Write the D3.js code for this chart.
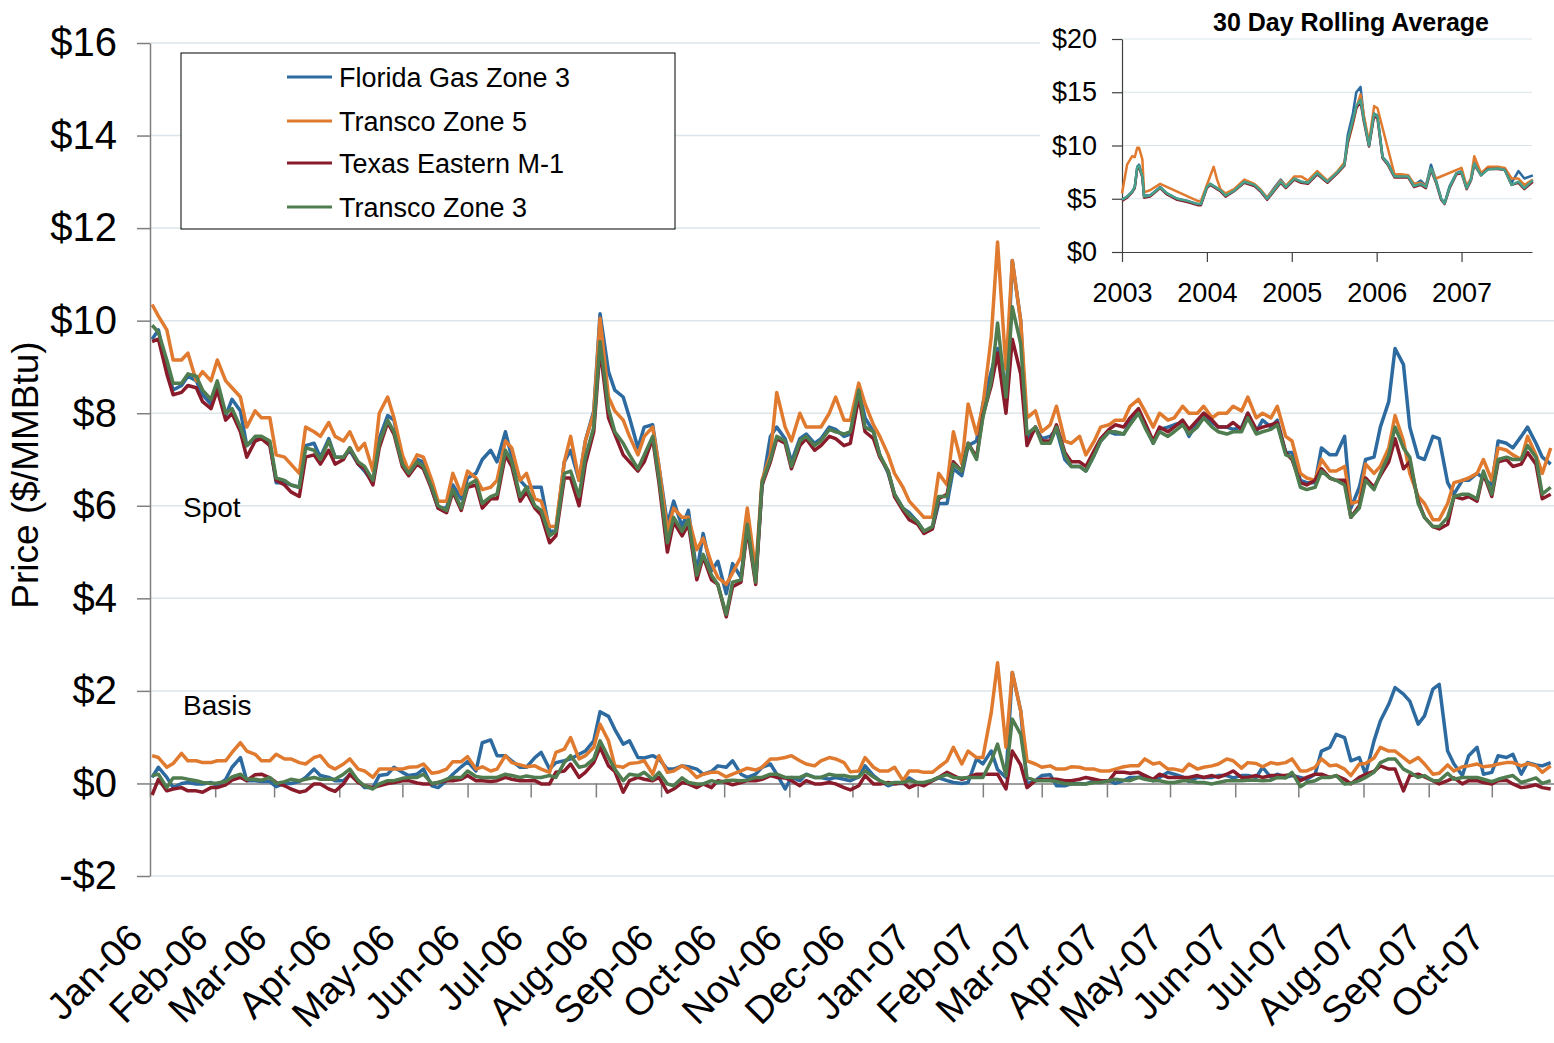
<!DOCTYPE html>
<html>
<head>
<meta charset="utf-8">
<script src="https://cdn.jsdelivr.net/npm/d3@7"></script>
<style>
  body { margin: 0; background: #fff; }
  svg { display: block; font-family: "Liberation Sans", Arial, sans-serif; }
</style>
</head>
<body>
<div id="chart"></div>
<script>
// series (legend order = drawing order)
const seriesNames = ["Florida Gas Zone 3", "Transco Zone 5", "Texas Eastern M-1", "Transco Zone 3"];
const seriesColors = ["#2C6AA0", "#E07A2F", "#8A1B2B", "#4F7D4F"];
const insetColors = ["#2C6AA0", "#E07A2F", "#8A1B2B", "#47A08A"];

const monthLabels = ["Jan-06", "Feb-06", "Mar-06", "Apr-06", "May-06", "Jun-06", "Jul-06", "Aug-06",
  "Sep-06", "Oct-06", "Nov-06", "Dec-06", "Jan-07", "Feb-07", "Mar-07", "Apr-07", "May-07", "Jun-07",
  "Jul-07", "Aug-07", "Sep-07", "Oct-07"];
const priceTicks = [-2, 0, 2, 4, 6, 8, 10, 12, 14, 16];

// prices read twice a week (Mondays and Thursdays), Jan 2 2006 .. Oct 29 2007
const fgtSpot = [
  9.6,9.8,8.95,8.5,8.6,8.8,8.7,8.4,8.2,8.6,7.95,8.3,8.05,7.3,7.45,7.45,7.35,6.5,6.5,6.45,6.4,7.3,7.35,7.05,
  7.45,7.05,7.05,7.2,6.9,6.75,6.5,7.45,7.95,7.85,7.0,6.75,7.0,6.95,6.35,5.95,5.95,6.45,6.15,6.6,6.7,7.0,7.2,6.95,
  7.6,7.05,6.55,6.4,6.4,6.4,5.45,5.45,6.95,7.2,6.55,7.4,8.05,10.15,8.9,8.5,8.35,7.9,7.25,7.7,7.75,6.85,5.6,6.1,
  5.55,5.9,4.55,5.4,4.6,4.8,4.1,4.75,4.45,5.6,4.45,6.4,7.5,7.7,7.45,6.95,7.45,7.55,7.35,7.45,7.7,7.65,7.5,
  7.55,8.5,7.9,7.6,7.1,6.7,6.25,5.95,5.85,5.65,5.45,5.5,6.05,6.05,6.8,6.65,7.3,7.4,8.2,8.9,9.4,8.3,11.3,10.0,
  7.4,7.7,7.45,7.5,7.65,7.0,6.85,6.85,6.75,7.1,7.4,7.6,7.55,7.55,7.8,8.05,7.8,7.35,7.65,7.7,7.75,7.8,7.5,
  7.8,8.0,7.8,7.7,7.7,7.65,7.7,8.0,7.6,7.85,7.7,7.85,7.15,7.15,6.55,6.5,6.5,7.25,7.1,7.1,7.5,5.95,6.4,7.0,
  7.05,7.7,8.25,9.4,9.05,7.7,7.05,7.0,7.5,7.45,6.5,6.25,6.55,6.55,6.7,6.6,6.45,7.4,7.35,7.25,7.5,7.7,7.35,7.05,6.9
];
const tz5Spot = [
  10.35,10.1,9.8,9.15,9.15,9.3,8.7,8.9,8.7,9.15,8.7,8.55,8.35,7.7,8.05,7.9,7.9,7.1,7.05,6.9,6.7,7.7,7.6,7.5,
  7.8,7.5,7.4,7.6,7.2,7.35,6.75,8.0,8.35,7.9,7.1,6.75,7.1,7.05,6.55,6.1,6.1,6.7,6.25,6.75,6.6,6.35,6.4,6.55,
  7.4,7.25,6.55,6.7,6.15,6.1,5.55,5.55,6.95,7.5,6.55,7.4,8.0,10.05,8.35,8.05,7.85,7.5,7.1,7.5,7.7,6.85,5.45,5.95,
  5.75,5.75,5.05,5.3,4.75,4.45,4.3,4.55,4.9,5.95,4.6,6.55,7.1,8.45,7.7,7.4,8.0,7.7,7.7,7.7,8.0,8.35,7.85,
  7.85,8.65,8.2,7.75,7.5,7.1,6.7,6.4,6.1,5.9,5.75,5.75,6.7,6.45,7.6,6.9,8.2,7.55,8.15,9.65,11.7,8.95,11.3,10.0,
  7.9,8.05,7.6,7.75,8.15,7.4,7.35,7.5,7.1,7.4,7.7,7.75,7.85,7.85,8.15,8.3,8.05,7.7,8.0,7.85,7.9,8.15,8.0,
  8.0,8.15,7.9,8.0,8.0,8.15,8.05,8.35,7.9,8.0,7.9,8.15,7.5,7.4,6.7,6.6,6.55,7.0,6.75,6.75,6.85,6.05,6.1,6.9,
  6.7,6.85,7.25,7.95,7.4,6.7,6.2,6.05,5.7,5.7,6.05,6.5,6.55,6.6,6.7,7.0,6.55,7.25,7.2,7.1,7.0,7.5,7.1,6.7,7.25
];
const tetcoSpot = [
  9.55,9.6,8.85,8.4,8.45,8.6,8.55,8.25,8.1,8.5,7.85,8.0,7.6,7.05,7.4,7.45,7.3,6.55,6.45,6.3,6.2,7.05,7.1,6.9,
  7.2,6.9,7.0,7.25,6.9,6.8,6.45,7.25,7.8,7.55,6.85,6.65,6.9,6.8,6.35,5.95,5.85,6.3,5.9,6.4,6.45,5.95,6.15,6.15,
  7.1,6.85,6.1,6.3,5.95,5.8,5.2,5.35,6.6,6.6,6.0,6.9,7.6,9.4,7.9,7.55,7.1,6.95,6.75,6.95,7.45,6.5,5.0,5.65,
  5.35,5.6,4.4,4.9,4.4,4.3,3.6,4.25,4.35,5.5,4.3,6.45,6.95,7.45,7.35,6.8,7.3,7.45,7.2,7.3,7.5,7.45,7.3,
  7.35,8.35,7.6,7.45,7.05,6.75,6.2,5.9,5.7,5.6,5.4,5.5,6.15,6.25,6.95,6.75,7.35,7.05,7.95,8.6,9.3,8.0,9.6,8.85,
  7.3,7.7,7.4,7.4,7.75,7.15,6.95,6.95,6.85,7.2,7.45,7.65,7.75,7.7,7.9,8.1,7.8,7.4,7.7,7.6,7.7,7.85,7.65,
  7.85,8.0,7.85,7.7,7.7,7.8,7.65,8.0,7.65,7.7,7.75,7.8,7.15,7.0,6.5,6.45,6.55,6.8,6.6,6.55,6.55,5.75,6.0,6.6,
  6.4,6.65,6.95,7.45,6.8,6.95,6.1,5.75,5.55,5.5,5.6,6.2,6.15,6.2,6.1,6.7,6.2,6.95,7.0,6.85,6.9,7.15,6.9,6.15,6.25
];
const tz3Spot = [
  9.9,9.75,9.15,8.65,8.65,8.85,8.8,8.5,8.3,8.7,8.0,8.1,7.7,7.3,7.5,7.5,7.4,6.6,6.55,6.45,6.4,7.25,7.2,7.0,
  7.4,7.05,7.05,7.25,6.95,6.85,6.55,7.35,7.85,7.6,6.9,6.7,6.95,6.85,6.4,6.0,5.9,6.35,5.95,6.45,6.55,6.05,6.2,6.25,
  7.2,6.95,6.2,6.4,6.0,5.9,5.35,5.45,6.7,6.75,6.2,7.05,7.7,9.55,8.1,7.6,7.35,7.1,6.8,7.1,7.5,6.6,5.2,5.75,
  5.45,5.7,4.5,4.95,4.5,4.3,3.65,4.35,4.4,5.6,4.35,6.5,7.0,7.5,7.4,6.85,7.4,7.5,7.3,7.4,7.65,7.6,7.55,
  7.6,8.5,7.7,7.6,7.1,6.75,6.25,5.95,5.8,5.65,5.45,5.55,6.2,6.2,6.9,6.75,7.35,7.0,7.9,8.7,9.95,8.35,10.3,9.5,
  7.55,7.7,7.35,7.35,7.7,7.1,6.85,6.85,6.75,7.1,7.4,7.6,7.6,7.55,7.75,8.0,7.7,7.35,7.6,7.5,7.6,7.75,7.55,
  7.7,7.9,7.7,7.6,7.55,7.6,7.6,7.9,7.55,7.6,7.65,7.75,7.1,7.05,6.4,6.35,6.4,6.75,6.6,6.55,6.45,5.75,5.95,6.55,
  6.35,6.7,7.1,7.7,7.25,7.05,6.05,5.75,5.55,5.55,5.75,6.2,6.25,6.25,6.15,6.75,6.25,7.0,7.05,7.0,7.0,7.3,7.05,6.25,6.4
];

// basis, same dates
const fgtBasis = [
  0.13,0.35,0.13,-0.09,0,0.02,-0.01,-0.01,0.02,-0.05,0.09,0.35,0.56,0.06,0.06,0.04,0.04,-0.07,0,0,0.04,0.13,0.31,0.17,
  0.13,0.06,0.06,0.19,0.06,-0.09,-0.09,0.17,0.2,0.35,0.24,0.17,0.2,0.31,-0.05,-0.09,0.06,0.2,0.36,0.47,0.27,0.88,0.94,0.6,
  0.6,0.49,0.35,0.35,0.56,0.67,0.31,0.45,0.49,0.53,0.63,0.7,0.92,1.55,1.45,1.17,0.85,0.92,0.56,0.55,0.6,0.53,0.31,0.31,
  0.38,0.36,0.31,0.2,0.26,0.38,0.35,0.49,0.2,0.13,0.2,0.35,0.42,0.2,-0.12,0.13,0.06,0.2,0.13,0.13,0.09,0.13,0.09,
  0.06,0.14,0.38,0.17,0.06,-0.05,0,0,0.12,0,-0.01,0.06,0.12,0.06,0.02,0,0.02,0.53,0.42,0.7,0.3,0.13,2.4,1.57,
  -0.01,0.06,0.17,0.19,-0.05,-0.05,-0.01,0,-0.01,0.06,0.06,0.06,0,0.06,0.13,0.13,0.17,0.06,0.13,0.24,0.2,0.14,0.04,
  0.13,0.13,0.13,0.17,0.17,0.12,0.17,0.17,0.13,0.35,0.13,0.2,0.13,0.17,0.13,0.09,0.2,0.7,0.78,1.06,0.99,0.49,0.56,0.2,
  0.92,1.35,1.71,2.07,1.93,1.78,1.28,1.46,2.04,2.14,0.7,0.42,0.17,0.6,0.78,0.2,0.24,0.6,0.56,0.63,0.2,0.45,0.4,0.38,0.45
];
const tz5Basis = [
  0.6,0.56,0.35,0.43,0.65,0.49,0.49,0.45,0.45,0.49,0.49,0.67,0.88,0.7,0.63,0.49,0.49,0.63,0.53,0.53,0.45,0.42,0.56,0.6,
  0.38,0.31,0.42,0.53,0.31,0.27,0.13,0.31,0.31,0.31,0.31,0.35,0.36,0.42,0.22,0.24,0.31,0.47,0.47,0.58,0.31,0.36,0.27,0.31,
  0.6,0.45,0.4,0.36,0.38,0.31,0.24,0.67,0.74,0.99,0.53,0.6,0.78,1.28,0.92,0.38,0.35,0.43,0.45,0.49,0.2,0.6,0.24,0.27,
  0.38,0.31,0.13,0.2,0.24,0.24,0.14,0.2,0.27,0.33,0.29,0.35,0.53,0.53,0.56,0.6,0.49,0.42,0.38,0.49,0.56,0.53,0.45,
  0.25,0.27,0.56,0.35,0.27,0.27,0.35,0.06,0.27,0.27,0.24,0.24,0.35,0.49,0.78,0.42,0.7,0.56,0.56,1.53,2.61,0.78,2.4,1.57,
  0.49,0.42,0.35,0.38,0.31,0.31,0.36,0.35,0.31,0.31,0.27,0.27,0.31,0.36,0.38,0.38,0.53,0.42,0.45,0.31,0.31,0.27,0.42,
  0.31,0.35,0.38,0.42,0.53,0.49,0.33,0.45,0.43,0.36,0.45,0.42,0.45,0.53,0.27,0.27,0.35,0.53,0.38,0.4,0.31,0.17,0.42,0.43,
  0.55,0.78,0.7,0.7,0.56,0.45,0.56,0.42,0.2,0.22,0.4,0.27,0.36,0.38,0.42,0.36,0.38,0.42,0.45,0.45,0.38,0.43,0.38,0.24,0.38
];
const tetcoBasis = [
  -0.25,0.09,-0.16,-0.12,-0.09,-0.16,-0.16,-0.19,-0.09,-0.09,-0.03,0.07,0.13,0.06,0.19,0.2,0.12,0.02,-0.05,-0.12,-0.19,-0.16,-0.01,-0.01,
  -0.12,-0.17,-0.01,0.2,0.02,-0.05,-0.09,-0.05,0,0.02,0.06,0.06,0.01,-0.01,-0.01,0.02,0.06,0.06,0.09,0.17,0.06,0.06,0.04,0.06,
  0.13,0.09,0.06,0.06,0.06,-0.01,-0.01,0.24,0.27,0.42,0.13,0.24,0.45,0.78,0.38,0.26,-0.19,0.06,0.13,0.09,0.06,0.13,-0.19,-0.12,
  0.02,-0.01,-0.09,-0.01,-0.09,0.06,0.02,-0.03,0.02,0.06,0.06,0.09,0.17,0.13,0.12,0.06,-0.05,0.06,-0.01,-0.01,0.02,-0.01,-0.09,
  -0.14,-0.05,0.17,-0.01,-0.01,0.02,-0.01,0.02,-0.09,-0.01,-0.05,0.06,0.13,0.24,0.17,0.09,0.13,0.2,0.2,0.2,0.2,-0.12,0.7,0.4,
  -0.09,0.06,0.09,0.09,0.09,0.06,0.06,0.09,0.13,0.09,0.06,0.06,0.24,0.24,0.22,0.24,0.17,0.09,0.2,0.13,0.13,0.13,0.13,
  0.17,0.13,0.17,0.13,0.2,0.27,0.13,0.13,0.17,0.13,0.17,0.17,0.17,0.2,0.06,0.13,0.2,0.2,0.13,0.17,0.09,-0.01,0.13,0.2,
  0.26,0.38,0.31,0.31,-0.16,0.17,0.2,0.14,0.06,-0.01,0.06,0.12,-0.01,0.06,0.06,0.02,-0.01,0.06,0.07,-0.01,-0.09,-0.07,-0.03,-0.09,-0.12
];
const tz3Basis = [
  0.17,0.2,-0.09,0.12,0.12,0.09,0.06,0.02,0,0.01,0.04,0.14,0.2,0.09,0.09,0.07,0.13,0,0.04,0.09,0.06,0.09,0.13,0.09,
  0.09,0.09,0.2,0.31,0.06,-0.05,-0.12,-0.01,0.06,0.06,0.11,0.13,0.13,0.2,0,0.02,0.09,0.13,0.13,0.27,0.15,0.13,0.13,0.13,
  0.2,0.17,0.13,0.16,0.13,0.13,0.17,0.13,0.45,0.6,0.35,0.38,0.53,0.92,0.56,0.31,0.06,0.2,0.17,0.24,0.09,0.24,-0.01,-0.05,
  0.12,0.02,-0.01,-0.01,0.06,0.02,0.06,0.07,0.06,0.07,0.13,0.13,0.2,0.2,0.13,0.13,0.13,0.19,0.13,0.13,0.2,0.17,0.17,
  0.14,0.14,0.27,0.14,0.06,-0.01,0.02,0.02,0.06,0.02,0.02,0.07,0.13,0.19,0.13,0.12,0.13,0.13,0.13,0.49,0.85,0.17,1.39,1.06,
  0.13,0.06,0.06,0.06,0.04,0,-0.01,-0.01,-0.01,0.02,0.02,0.06,0.09,0.07,0.06,0.13,0.09,0.06,0.06,0.02,0.02,0.06,0.06,
  0.02,0.02,-0.01,0.02,0.06,0.06,0.06,0.07,0.07,0.06,0.07,0.13,0.12,0.24,-0.07,0.02,0.06,0.13,0.13,0.17,-0.01,0,0.06,0.13,
  0.24,0.45,0.53,0.53,0.31,0.24,0.13,0.17,0.06,0.06,0.22,0.09,0.13,0.13,0.13,0.09,0.04,0.09,0.14,0.17,0.02,0.06,0.12,0,0.06
];

// inset: 30 day rolling average, 2003 .. 2007
const insetYears = [
  2003.00,2003.06,2003.12,2003.15,2003.18,2003.20,2003.24,2003.26,2003.33,2003.45,2003.53,2003.65,2003.77,2003.89,2003.93,
  2004.00,2004.04,2004.08,2004.12,2004.16,2004.22,2004.32,2004.44,2004.56,2004.63,2004.71,2004.79,2004.87,2004.93,
  2005.03,2005.11,2005.19,2005.30,2005.42,2005.54,2005.62,2005.66,2005.72,2005.76,2005.81,2005.85,2005.91,2005.97,
  2006.01,2006.07,2006.13,2006.21,2006.29,2006.37,2006.44,2006.52,2006.58,2006.64,2006.70,2006.76,2006.80,2006.86,2006.94,
  2007.00,2007.06,2007.11,2007.15,2007.23,2007.31,2007.43,2007.51,2007.59,2007.67,2007.74,2007.84
];
const fgtAvg = [
  4.9,5.2,5.7,6.1,8.0,8.2,7.2,5.3,5.3,6.1,5.5,5.0,4.8,4.5,4.5,
  6.2,6.4,6.2,6.0,5.8,5.3,5.8,6.6,6.3,5.8,5.1,6.0,6.8,6.2,
  6.9,6.6,6.5,7.4,6.6,7.5,8.3,11.0,13.0,15.0,15.5,12.6,10.0,13.0,
  12.8,8.9,8.4,7.2,7.2,7.2,6.3,6.7,6.2,8.2,6.7,5.0,4.6,6.2,7.4,
  7.6,6.1,6.8,8.4,7.3,7.8,7.9,7.7,6.5,7.6,6.9,7.2
];
const tz5Avg = [
  5.5,8.2,9.0,8.9,9.8,9.8,8.7,5.6,5.8,6.4,null,null,null,4.8,4.8,
  null,null,8.0,6.8,5.9,5.5,5.9,6.8,6.4,5.9,5.1,5.9,6.7,6.2,
  7.1,7.1,6.7,7.6,6.7,7.6,8.4,10.2,12.0,13.5,14.8,12.8,10.3,13.7,
  13.5,null,null,7.3,7.3,7.2,6.4,6.5,6.2,7.8,6.9,null,null,null,null,
  7.9,6.2,6.9,9.0,7.4,8.0,8.0,7.9,6.9,6.9,6.3,6.8
];
const tetcoAvg = [
  4.8,5.1,5.6,6.0,7.9,8.0,7.0,5.1,5.2,6.0,5.4,4.9,4.7,4.4,4.4,
  6.0,6.3,6.1,5.9,5.7,5.2,5.7,6.5,6.2,5.7,4.9,5.7,6.5,6.0,
  6.8,6.5,6.4,7.3,6.5,7.4,8.1,10.3,12.2,13.5,14.1,12.2,9.9,12.8,
  12.5,8.8,8.2,7.0,7.0,7.0,6.1,6.3,6.0,7.7,6.5,4.9,4.5,6.0,7.3,
  7.4,5.9,6.7,8.2,7.2,7.8,7.8,7.7,6.3,6.5,5.9,6.6
];
const tz3Avg = [
  4.9,5.2,5.65,6.1,8.0,8.1,7.1,5.2,5.3,6.05,5.5,5.0,4.8,4.5,4.5,
  6.1,6.4,6.2,6.0,5.8,5.3,5.75,6.6,6.3,5.8,5.0,5.8,6.6,6.1,
  6.9,6.6,6.5,7.4,6.6,7.5,8.2,10.5,12.4,13.7,14.3,12.4,10.0,13.0,
  12.7,8.9,8.3,7.1,7.1,7.1,6.2,6.4,6.1,7.85,6.6,5.0,4.55,6.1,7.4,
  7.5,6.0,6.75,8.3,7.2,7.75,7.85,7.7,6.3,6.6,6.0,6.75
];
const insetYearTicks = [2003, 2004, 2005, 2006, 2007];
const insetPriceTicks = [0, 5, 10, 15, 20];

const spotSeries = [fgtSpot, tz5Spot, tetcoSpot, tz3Spot];
const basisSeries = [fgtBasis, tz5Basis, tetcoBasis, tz3Basis];
const avgSeries = [fgtAvg, tz5Avg, tetcoAvg, tz3Avg];

const width = 1554, height = 1043;
const gridColor = "#DCE6EA", axisColor = "#7F7F7F";
const fontStack = "Liberation Sans, Arial, sans-serif";

// sample dates: every Monday and Thursday
const sampleDates = d3.merge([
  d3.timeMonday.range(new Date(2006, 0, 2), new Date(2007, 9, 30)),
  d3.timeThursday.range(new Date(2006, 0, 5), new Date(2007, 9, 30))
]).sort((a, b) => a - b);
const monthDates = d3.timeMonth.range(new Date(2006, 0, 1), new Date(2007, 10, 1));

const svg = d3.select("#chart").append("svg")
  .attr("width", width)
  .attr("height", height);

const x = d3.scaleTime()
  .domain([new Date(2006, 0, 1), new Date(2007, 10, 1)])
  .range([150, 1557]);
const y = d3.scaleLinear().domain([-2, 16]).range([876, 43]);

// gridlines
svg.append("g").selectAll("line")
  .data(priceTicks.filter(d => d !== 0))
  .enter().append("line")
  .attr("x1", 150).attr("x2", width)
  .attr("y1", d => y(d)).attr("y2", d => y(d))
  .attr("stroke", gridColor).attr("stroke-width", 1.5);

// y axis
const yAxis = svg.append("g")
  .attr("transform", "translate(150,0)")
  .call(d3.axisLeft(y).tickValues(priceTicks).tickSize(13).tickSizeOuter(0).tickPadding(20)
    .tickFormat(d => (d < 0 ? "-$" : "$") + Math.abs(d)));
yAxis.selectAll("text").attr("font-size", 40).attr("fill", "#000").attr("font-family", fontStack);
yAxis.selectAll("line, path").attr("stroke", axisColor).attr("stroke-width", 1.5);

// zero line with month ticks
const xAxis = svg.append("g")
  .attr("transform", `translate(0,${y(0)})`)
  .call(d3.axisBottom(x).tickValues(monthDates).tickSize(14).tickSizeOuter(0).tickFormat(""));
xAxis.selectAll("line, path").attr("stroke", axisColor).attr("stroke-width", 1.5);

// month labels at the bottom
svg.append("g").selectAll("text")
  .data(monthDates)
  .enter().append("text")
  .attr("transform", d => `translate(${x(d) - 5},940) rotate(-45)`)
  .attr("text-anchor", "end")
  .attr("font-size", 38)
  .text((d, i) => monthLabels[i]);

// lines
const line = d3.line()
  .x((d, i) => x(sampleDates[i]))
  .y(d => y(d));

basisSeries.forEach((s, k) => {
  svg.append("path").datum(s)
    .attr("d", line).attr("fill", "none")
    .attr("stroke", seriesColors[k]).attr("stroke-width", 3.5)
    .attr("stroke-linejoin", "round");
});
spotSeries.forEach((s, k) => {
  svg.append("path").datum(s)
    .attr("d", line).attr("fill", "none")
    .attr("stroke", seriesColors[k]).attr("stroke-width", 3.5)
    .attr("stroke-linejoin", "round");
});

svg.append("text").attr("x", 183).attr("y", 517).attr("font-size", 28).text("Spot");
svg.append("text").attr("x", 183).attr("y", 715).attr("font-size", 28).text("Basis");

// y title
svg.append("text")
  .attr("transform", "translate(38,475) rotate(-90)")
  .attr("text-anchor", "middle")
  .attr("font-size", 37)
  .text("Price ($/MMBtu)");

// legend
const legend = svg.append("g");
legend.append("rect")
  .attr("x", 181).attr("y", 53).attr("width", 494).attr("height", 176)
  .attr("fill", "#fff").attr("stroke", "#000").attr("stroke-width", 1);
const legendRows = [77, 121, 163, 207];
seriesNames.forEach((name, k) => {
  legend.append("line")
    .attr("x1", 287).attr("x2", 332)
    .attr("y1", legendRows[k]).attr("y2", legendRows[k])
    .attr("stroke", seriesColors[k]).attr("stroke-width", 3);
  legend.append("text")
    .attr("x", 339).attr("y", legendRows[k] + 10)
    .attr("font-size", 27)
    .text(name);
});

// ---- inset ----
const inset = svg.append("g");
inset.append("rect")
  .attr("x", 1040).attr("y", 0).attr("width", 514).attr("height", 312)
  .attr("fill", "#fff");

const xi = d3.scaleLinear().domain([2003, 2007.83]).range([1122, 1532]);
const yi = d3.scaleLinear().domain([0, 20]).range([252, 39]);

inset.append("g").selectAll("line")
  .data(insetPriceTicks.filter(d => d > 0))
  .enter().append("line")
  .attr("x1", 1122).attr("x2", 1532)
  .attr("y1", d => yi(d)).attr("y2", d => yi(d))
  .attr("stroke", gridColor).attr("stroke-width", 1.2);

const yiAxis = inset.append("g")
  .attr("transform", "translate(1122,0)")
  .call(d3.axisLeft(yi).tickValues(insetPriceTicks).tickSize(10).tickSizeOuter(0).tickPadding(15)
    .tickFormat(d => "$" + d));
const xiAxis = inset.append("g")
  .attr("transform", `translate(0,${yi(0)})`)
  .call(d3.axisBottom(xi).tickValues(insetYearTicks).tickSize(10).tickSizeOuter(0).tickPadding(21)
    .tickFormat(d3.format("d")));
[yiAxis, xiAxis].forEach(a => {
  a.selectAll("text").attr("font-size", 27).attr("fill", "#000").attr("font-family", fontStack);
  a.selectAll("line, path").attr("stroke", "#404040").attr("stroke-width", 1.2);
});

const insetLine = d3.line()
  .x(d => xi(d[0]))
  .y(d => yi(d[1]));
avgSeries.forEach((s, k) => {
  const pts = insetYears.map((yr, i) => [yr, s[i]]).filter(d => d[1] != null);
  inset.append("path").datum(pts)
    .attr("d", insetLine).attr("fill", "none")
    .attr("stroke", insetColors[k]).attr("stroke-width", 2.5)
    .attr("stroke-linejoin", "round");
});

inset.append("text")
  .attr("x", 1351).attr("y", 31)
  .attr("text-anchor", "middle")
  .attr("font-size", 25).attr("font-weight", "bold")
  .text("30 Day Rolling Average");
</script>
</body>
</html>
